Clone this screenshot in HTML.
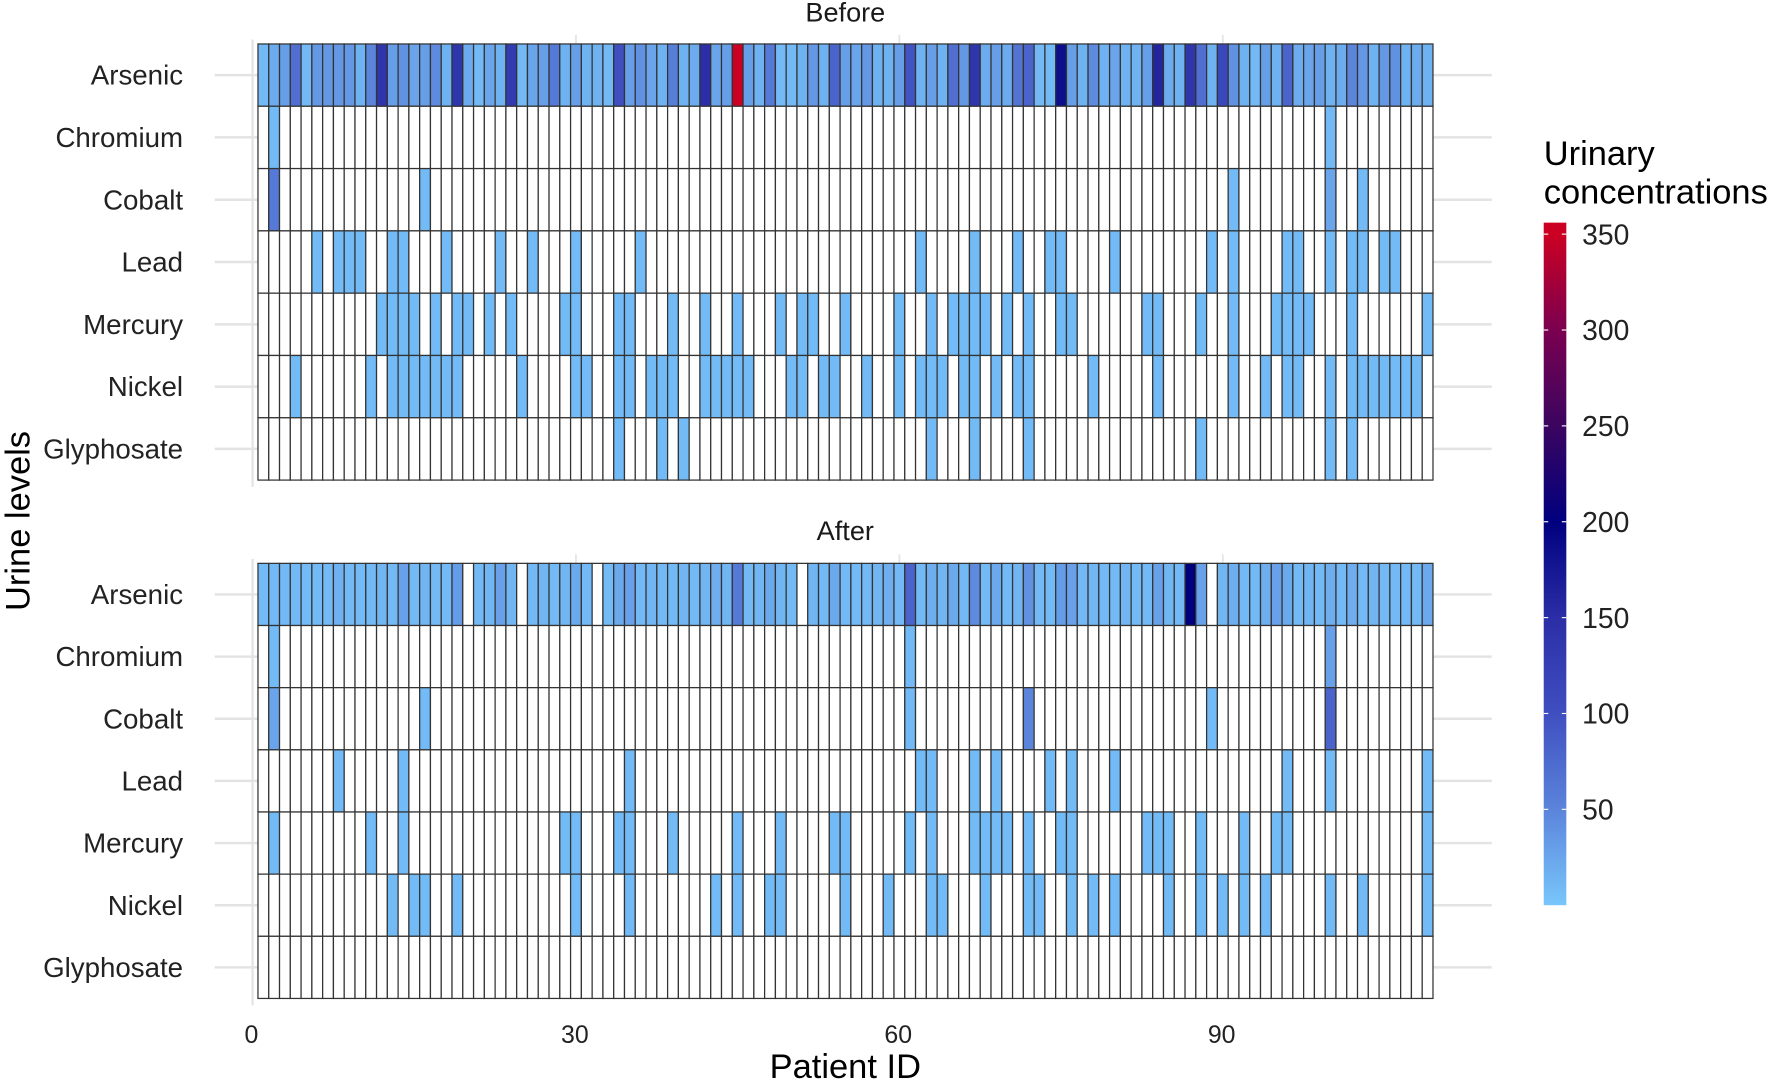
<!DOCTYPE html>
<html><head><meta charset="utf-8"><style>
html,body{margin:0;padding:0;background:#fff;}
svg{display:block;font-family:"Liberation Sans",Arial,sans-serif;}
</style></head><body>
<svg id="chart" width="1772" height="1084" viewBox="0 0 1568 959.2" xmlns="http://www.w3.org/2000/svg">
<g id="grid"></g>
<g id="cells"></g>
<g id="labels"></g>
<text x="748" y="19" font-size="24" text-anchor="middle" fill="#1a1a1a">Before</text>
<text x="748" y="478" font-size="24" text-anchor="middle" fill="#1a1a1a">After</text>
<text x="748" y="954" font-size="30.5" text-anchor="middle" fill="#000">Patient ID</text>
<text transform="translate(26,461) rotate(-90)" font-size="30.5" text-anchor="middle" fill="#000">Urine levels</text>
<text font-size="30.5" fill="#000"><tspan x="1366" y="146">Urinary</tspan><tspan x="1366" y="180">concentrations</tspan></text>
<defs><linearGradient id="cbar" x1="0" y1="1" x2="0" y2="0"></linearGradient></defs>
<g id="legend"></g>
</svg>
<script>
const metals = ["Arsenic","Chromium","Cobalt","Lead","Mercury","Nickel","Glyphosate"];
const xTicks = [0,30,60,90];
const legendTicks = [50,100,150,200,250,300,350];
const nPatients = 109;
// Arsenic values per patient (1..109), null = missing
const beforeArsenic = [10,20,30,70,10,35,35,35,35,15,50,140,30,40,25,30,45,15,140,20,10,25,15,130,10,25,30,
60,15,30,15,15,10,100,30,40,25,15,55,15,20,150,25,30,350,30,15,60,10,10,15,35,15,80,30,
25,35,15,15,30,95,15,30,15,70,35,140,20,30,20,65,80,10,10,185,30,15,45,15,25,15,15,30,
160,20,15,140,70,15,110,40,15,10,30,15,80,20,25,30,15,20,50,35,15,35,40,15,20,15];
const afterArsenic = [8,10,10,10,8,10,10,16,10,8,10,12,10,28,10,12,10,10,32,null,10,12,28,12,null,10,12,
10,12,22,10,null,8,22,28,10,12,10,10,12,10,12,18,12,60,10,12,22,12,10,null,12,10,22,10,
10,10,12,18,10,80,10,18,12,22,10,45,10,22,10,12,40,10,10,32,28,10,12,10,10,12,10,10,
28,12,10,200,28,null,12,18,10,10,18,28,22,10,12,10,18,10,18,10,12,10,10,10,10,22];
// Other metals: [patientId, value]
const beforeChromium = [[2,8],[100,10]];
const beforeCobalt = [[2,60],[16,8],[91,8],[100,25],[103,8]];
const beforeLead = [6,8,9,10,13,14,18,23,26,30,36,62,67,71,74,75,80,89,91,96,97,100,102,103,105,106].map(i=>[i,8]);
const beforeMercury = [12,13,14,15,17,19,20,22,24,29,30,34,35,39,42,45,49,51,52,55,60,63,65,66,67,68,70,72,75,76,83,84,88,91,95,96,97,98,102,109].map(i=>[i,8]);
const beforeNickel = [4,11,13,14,15,16,17,18,19,25,30,31,34,35,37,38,39,42,43,44,45,46,50,51,53,54,57,60,62,63,64,66,67,69,71,72,78,84,91,94,96,97,100,102,103,104,105,106,107,108].map(i=>[i,8]);
const beforeGlyphosate = [34,38,40,63,67,72,88,100,102].map(i=>[i,8]);
const afterChromium = [[2,8],[61,10],[100,28]];
const afterCobalt = [[2,25],[16,8],[61,10],[72,50],[89,8],[100,80]];
const afterLead = [8,14,35,62,63,67,69,74,76,80,96,100,109].map(i=>[i,8]);
const afterMercury = [2,11,14,29,30,34,35,39,45,49,54,55,61,63,67,68,69,70,72,75,76,83,84,85,88,92,95,96,109].map(i=>[i,8]);
const afterNickel = [13,15,16,19,30,35,43,45,48,49,55,59,63,64,68,72,73,76,78,80,85,88,90,92,94,100,103,109].map(i=>[i,8]);
const afterGlyphosate = [];

const colorStops=[[0,[0x78,0xc6,0xfb]],[50,[0x5b,0x84,0xdb]],[100,[0x3f,0x4f,0xc0]],[150,[0x2b,0x2e,0xa6]],[200,[0x00,0x00,0x7f]],[250,[0x3b,0x05,0x60]],[300,[0x7b,0x00,0x50]],[350,[0xcc,0x00,0x22]]];
function color(v){
  if(v<=colorStops[0][0])return 'rgb('+colorStops[0][1].join(',')+')';
  for(let k=1;k<colorStops.length;k++){
    if(v<=colorStops[k][0]||k===colorStops.length-1){
      const a=colorStops[k-1],b=colorStops[k];const t=Math.min(1,(v-a[0])/(b[0]-a[0]));
      return 'rgb('+a[1].map((c,j)=>Math.round(c+(b[1][j]-c)*t)).join(',')+')';
    }
  }
}
const NS='http://www.w3.org/2000/svg';
function mk(tag,attrs,parent){const e=document.createElementNS(NS,tag);for(const k in attrs)e.setAttribute(k,attrs[k]);parent.appendChild(e);return e;}
const unit=9.539, x0=223.5;
function xs(v){return x0+v*unit;}
const panels=[{top:38.9,rowH:55.13,ars:beforeArsenic,rows:[beforeChromium,beforeCobalt,beforeLead,beforeMercury,beforeNickel,beforeGlyphosate],name:'before'},
              {top:498.5,rowH:55.0,ars:afterArsenic,rows:[afterChromium,afterCobalt,afterLead,afterMercury,afterNickel,afterGlyphosate],name:'after'}];
const grid=document.getElementById('grid'),cells=document.getElementById('cells'),labels=document.getElementById('labels');
panels.forEach(p=>{
  const bottom=p.top+7*p.rowH;
  const vl=mk('line',{x1:xs(0),x2:xs(0),y1:p.top-4,y2:bottom+6,stroke:'#e3e3e3','stroke-width':2},grid);
  
  
  xTicks.slice(1).forEach(t=>{const tl=mk('line',{x1:xs(t),x2:xs(t),y1:p.top-8,y2:p.top,stroke:'#e3e3e3','stroke-width':1.5},grid);
    
    });
  metals.forEach((m,r)=>{
    const yc=p.top+(r+0.5)*p.rowH;
    const gl=mk('line',{x1:190,x2:1320,y1:yc,y2:yc,stroke:'#e3e3e3','stroke-width':2.2},grid);
    
    
    const t=mk('text',{x:162,y:yc+8.5,'font-size':24.5,'text-anchor':'end',fill:'#222'},labels);t.textContent=m;
    
    
    const vals=new Array(nPatients).fill(null);
    if(r===0){p.ars.forEach((v,i)=>vals[i]=v);} else {p.rows[r-1].forEach(([id,v])=>vals[id-1]=v);}
    for(let i=0;i<nPatients;i++){
      const v=vals[i];
      const c=mk('rect',{x:xs(i+0.5),y:p.top+r*p.rowH,width:unit,height:p.rowH,fill:v==null?'#fff':color(v),stroke:'#333','stroke-width':1.1},cells);
      
      
    }
  });
});
xTicks.forEach(t=>{const tx=mk('text',{x:xs(t)-1,y:923,'font-size':22,'text-anchor':'middle',fill:'#222'},labels);tx.textContent=t;
  
  });
// legend
const grad=document.getElementById('cbar');
colorStops.forEach(s=>{mk('stop',{offset:(s[0]/356),'stop-color':color(s[0])},grad);});
const legend=document.getElementById('legend');
const cbTop=197,cbBot=801,cbMax=356;
function ly(v){return cbBot-(v/cbMax)*(cbBot-cbTop);}
const bar=mk('rect',{x:1366,y:cbTop,width:20,height:cbBot-cbTop,fill:'url(#cbar)'},legend);


legendTicks.forEach(t=>{
  const y=ly(t);
  mk('line',{x1:1366,x2:1370,y1:y,y2:y,stroke:'#fff','stroke-width':1},legend);
  mk('line',{x1:1382,x2:1386,y1:y,y2:y,stroke:'#fff','stroke-width':1},legend);
  const lt=mk('text',{x:1400,y:y+9,'font-size':25,fill:'#222'},legend);lt.textContent=t;
  
  
});
</script>
</body></html>
